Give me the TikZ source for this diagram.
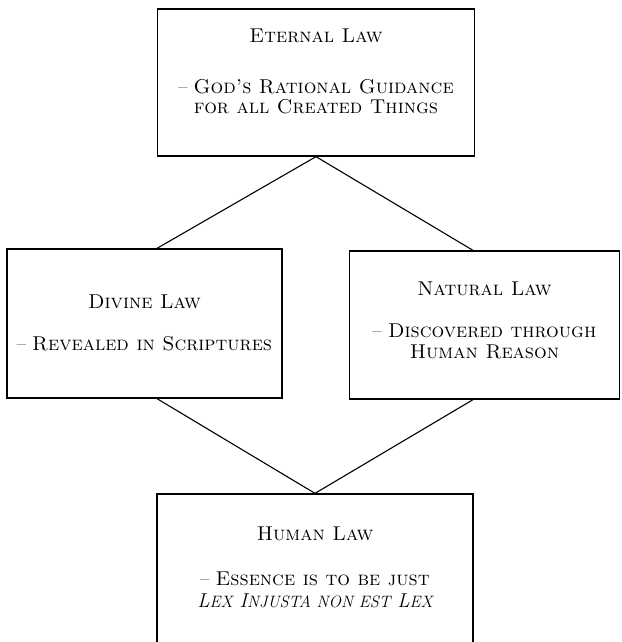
\documentclass[tikz,border=0pt]{standalone}
\newcommand{\smc}[1]{{\fontsize{16.5}{18}\selectfont #1}}
\begin{document}
\begin{tikzpicture}[x=1pt,y=-1pt,
  lawbox/.style={draw,line width=1.3pt,inner sep=0pt,rectangle},
  link/.style={line width=1.1pt},
  txt/.style={anchor=base,inner sep=0pt,font=\fontsize{20}{22}\selectfont}]
  \useasboundingbox (0,0) rectangle (621,642);

  % boxes
  \node[lawbox,minimum width=317pt,minimum height=147pt] (eternal) at (316,82.5) {};
  \node[lawbox,minimum width=275pt,minimum height=149pt] (divine) at (144.5,323.5) {};
  \node[lawbox,minimum width=270pt,minimum height=148pt] (natural) at (484.5,325) {};
  \node[lawbox,minimum width=316pt,minimum height=152pt] (human) at (315,570) {};

  % connector ends on the middle boxes
  \coordinate (dtop) at ([xshift=12.5pt]divine.north);
  \coordinate (dbot) at ([xshift=12.5pt]divine.south);
  \coordinate (ntop) at ([xshift=-11.5pt]natural.north);
  \coordinate (nbot) at ([xshift=-11.5pt]natural.south);

  \draw[link] (eternal.south) -- (dtop);
  \draw[link] (eternal.south) -- (ntop);
  \draw[link] (dbot) -- (human.north);
  \draw[link] (nbot) -- (human.north);

  % Eternal Law
  \node[txt] (et1) at (316,43) {\textsc{Eternal Law}};
  \node[txt] (et2) at (316,93) {\textendash{} \textsc{God's Rational Guidance}};
  \node[txt] (et3) at (316,113) {\textsc{for all Created Things}};

  % Divine Law
  \node[txt] (dv1) at (144.5,308) {\textsc{Divine Law}};
  \node[txt] (dv2) at (144.5,350) {\textendash{} \textsc{Revealed in Scriptures}};

  % Natural Law
  \node[txt] (na1) at (484.5,295) {\textsc{Natural Law}};
  \node[txt] (na2) at (484.5,337) {\textendash{} \textsc{Discovered through}};
  \node[txt] (na3) at (484.5,358) {\textsc{Human Reason}};

  % Human Law
  \node[txt] (hu1) at (315,540) {\textsc{Human Law}};
  \node[txt] (hu2) at (315,585) {\textendash{} \textsc{Essence is to be just}};
  \node[txt] (hu3) at (315,607) {\itshape L\smc{EX} I\smc{NJUSTA NON EST} L\smc{EX}};
\end{tikzpicture}
\end{document}
